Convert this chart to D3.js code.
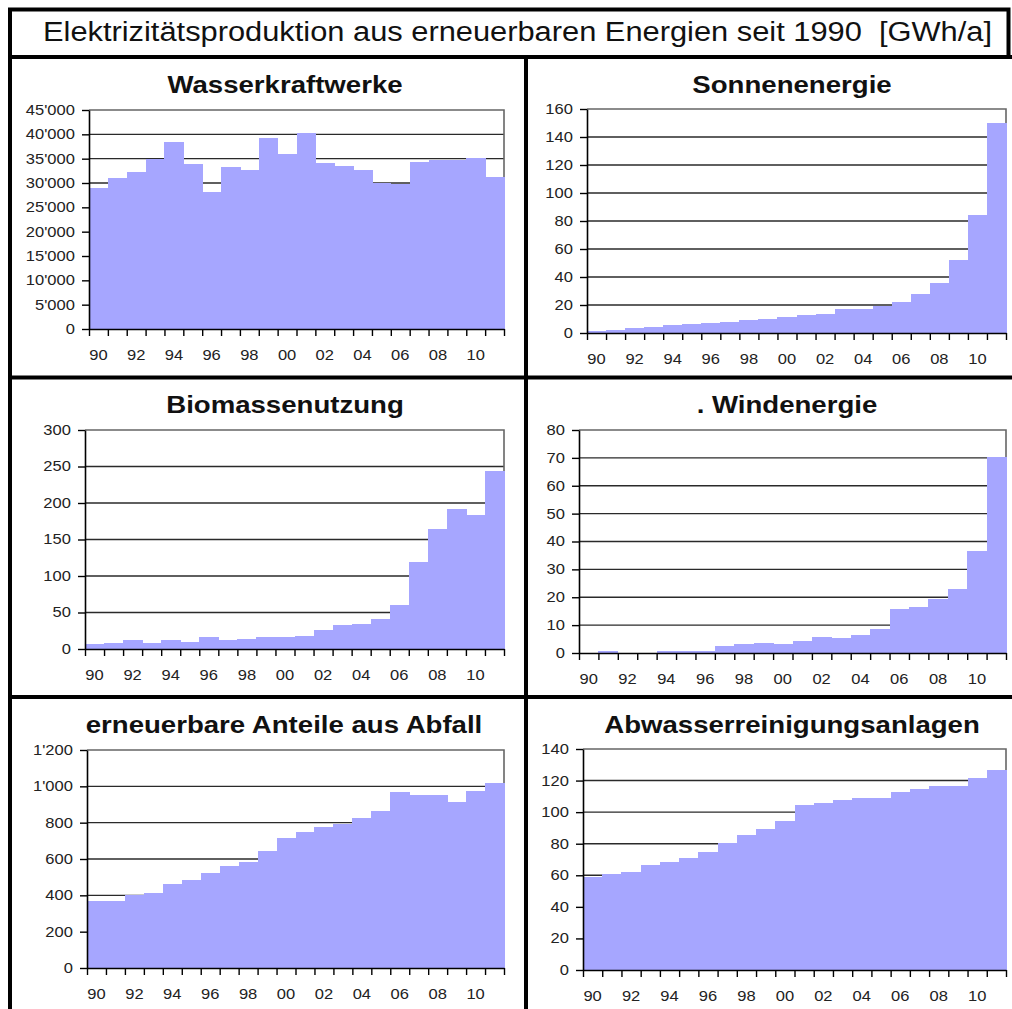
<!DOCTYPE html>
<html>
<head>
<meta charset="utf-8">
<script src="https://cdn.jsdelivr.net/npm/d3@7"></script>
<style>
  body { margin: 0; background: #fff; }
  svg { display: block; }
  text { font-family: "Liberation Sans", Arial, sans-serif; }
</style>
</head>
<body>
<script>
// Jahre 1990 - 2011
const years = [1990, 1991, 1992, 1993, 1994, 1995, 1996, 1997, 1998, 1999, 2000,
               2001, 2002, 2003, 2004, 2005, 2006, 2007, 2008, 2009, 2010, 2011];

// Werte in GWh/a
const wasserkraft = [28900, 31100, 32200, 35000, 38400, 34000, 28100, 33200, 32600, 39300, 35900,
                     40300, 34100, 33400, 32600, 30100, 29700, 34400, 34800, 34800, 35100, 31300];
const sonne = [1.4, 2.4, 3.6, 4.5, 5.5, 6.7, 7.2, 7.9, 9.1, 10.0, 11.7,
               12.6, 13.8, 17.2, 17.2, 19.3, 22.4, 27.9, 35.8, 52.3, 84.2, 149.9];
const biomasse = [6.8, 8.2, 12.3, 7.8, 11.9, 10.0, 16.4, 11.9, 14.1, 16.0, 16.0,
                  17.8, 26.4, 32.4, 34.2, 41.0, 59.7, 119.0, 164.2, 192.0, 182.9, 244.0];
const wind = [0, 0.8, 0, 0, 0.7, 0.7, 0.7, 2.5, 3.2, 3.7, 3.2,
              4.4, 5.9, 5.4, 6.5, 8.7, 15.8, 16.4, 19.2, 22.9, 36.6, 70.2];
const abfall = [368, 368, 404, 415, 465, 487, 522, 562, 583, 645, 715,
                748, 778, 790, 825, 866, 967, 950, 950, 915, 976, 1018];
const abwasser = [58.6, 60.5, 62.2, 66.2, 68.7, 71.0, 74.6, 80.2, 85.6, 89.4, 94.3,
                  104.7, 105.7, 107.8, 108.7, 108.7, 112.7, 114.6, 116.3, 116.7, 121.6, 126.6];

const titles = ["Wasserkraftwerke", "Sonnenenergie", "Biomassenutzung",
                ". Windenergie", "erneuerbare Anteile aus Abfall", "Abwasserreinigungsanlagen"];
const yMax = [45000, 160, 300, 80, 1200, 140];
const yStep = [5000, 20, 50, 10, 200, 20];
const series = [wasserkraft, sonne, biomasse, wind, abfall, abwasser];

const mainTitle = "Elektrizitätsproduktion aus erneuerbaren Energien seit 1990  [GWh/a]";

// Plotflaechen (l, r, t, b) und Titelpositionen
const boxes = [
  {l: 89,  r: 504,  t: 110, b: 329, cx: 285, ty: 93},
  {l: 587, r: 1006, t: 109, b: 333, cx: 792, ty: 93},
  {l: 85,  r: 504,  t: 430, b: 649, cx: 285, ty: 413},
  {l: 579, r: 1006, t: 430, b: 653, cx: 787, ty: 413},
  {l: 87,  r: 504,  t: 750, b: 968, cx: 284, ty: 733},
  {l: 583, r: 1006, t: 749, b: 970, cx: 792, ty: 733}
];

const W = 1012, H = 1009;
const barColor = "#a6a6ff";
const stretch = 1.18; // Schrift im Original leicht breitgezogen

const svg = d3.select("body").append("svg")
    .attr("width", W)
    .attr("height", H)
    .attr("viewBox", `0 0 ${W} ${H}`);

const fmt = d3.formatLocale({decimal: ".", thousands: "'", grouping: [3], currency: ["", ""]}).format(",");

// Haupttitel
svg.append("text")
    .attr("x", 43)
    .attr("y", 41)
    .attr("textLength", 949)
    .attr("lengthAdjust", "spacingAndGlyphs")
    .attr("xml:space", "preserve")
    .style("white-space", "pre")
    .style("font-size", "27px")
    .style("fill", "#111")
    .text(mainTitle);

series.forEach((values, i) => {
  const bx = boxes[i];
  const g = svg.append("g");

  const x = d3.scaleBand().domain(years).range([bx.l, bx.r]).padding(0);
  const xi = d3.scaleLinear().domain([0, years.length]).range([bx.l, bx.r]);
  const y = d3.scaleLinear().domain([0, yMax[i]]).range([bx.b, bx.t]);
  const ticks = d3.range(0, yMax[i] + yStep[i] / 2, yStep[i]);

  // Gitterlinien
  g.append("g").selectAll("line")
    .data(ticks.filter(v => v > 0 && v < yMax[i]))
    .enter().append("line")
      .attr("x1", bx.l).attr("x2", bx.r)
      .attr("y1", d => y(d)).attr("y2", d => y(d))
      .attr("stroke", "#2a2a2a")
      .attr("stroke-width", 1.4);

  // Rahmen oben / rechts
  g.append("path")
    .attr("d", `M${bx.l},${y(yMax[i])}H${bx.r}V${bx.b}`)
    .attr("fill", "none")
    .attr("stroke", "#666")
    .attr("stroke-width", 1.6);

  // Balken
  g.append("g").selectAll("rect")
    .data(values)
    .enter().append("rect")
      .attr("x", (d, j) => x(years[j]))
      .attr("width", x.bandwidth() + 0.6)
      .attr("y", d => y(d))
      .attr("height", d => bx.b - y(d))
      .attr("fill", barColor)
      .attr("shape-rendering", "crispEdges");

  // y-Achse
  const ya = g.append("g")
    .attr("transform", `translate(${bx.l},0)`)
    .call(d3.axisLeft(y).tickValues(ticks).tickSize(7).tickSizeOuter(0).tickPadding(5).tickFormat(fmt));

  // x-Achse: Striche an den Klassengrenzen
  const xa = g.append("g")
    .attr("transform", `translate(0,${bx.b})`)
    .call(d3.axisBottom(xi).tickValues(d3.range(0, years.length + 1)).tickSize(7).tickSizeOuter(0).tickFormat(""));

  // x-Beschriftung jedes zweite Jahr
  const xl = g.append("g")
    .attr("transform", `translate(0,${bx.b})`)
    .call(d3.axisBottom(x).tickValues(years.filter(v => v % 2 === 0)).tickSize(0).tickPadding(21)
      .tickFormat(v => String(v % 100).padStart(2, "0")));
  xl.select(".domain").remove();

  [ya, xa, xl].forEach(a => {
    a.selectAll(".domain").attr("stroke", "#000").attr("stroke-width", 1.6);
    a.selectAll(".tick line").attr("stroke", "#000").attr("stroke-width", 1.4);
    a.selectAll("text")
      .attr("transform", `scale(${stretch},1)`)
      .style("font-size", "14px")
      .style("font-family", "'Liberation Sans', Arial, sans-serif")
      .attr("fill", "#222");
  });

  // Diagrammtitel
  svg.append("text")
    .attr("text-anchor", "middle")
    .attr("transform", `translate(${bx.cx},${bx.ty}) scale(1.2,1)`)
    .style("font-size", "23px")
    .style("font-weight", "bold")
    .style("fill", "#111")
    .text(titles[i]);
});

// Rahmen und Trennlinien
const frame = svg.append("g")
    .attr("stroke", "#000")
    .attr("stroke-width", 4)
    .attr("fill", "none");

frame.append("path").attr("d", "M8,9.5H1008.5V57");
frame.append("path").attr("d", `M10,8V${H}`);
frame.append("path").attr("d", `M8,57H${W}`);
frame.append("path").attr("d", `M526,57V${H}`);
frame.append("path").attr("d", `M10,377.5H${W}`);
frame.append("path").attr("d", `M10,697H${W}`);
</script>
</body>
</html>
